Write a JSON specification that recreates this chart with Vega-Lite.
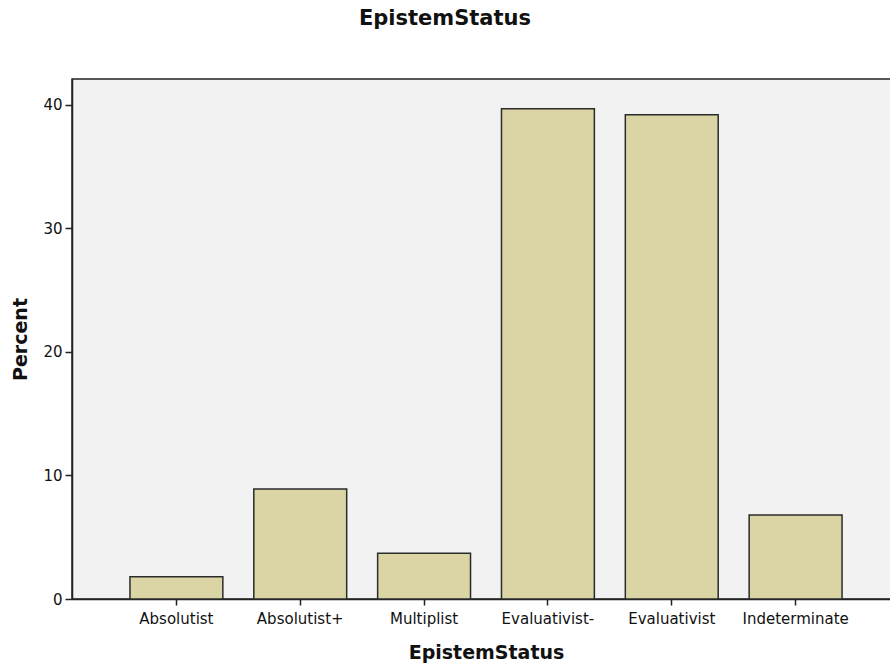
{
  "$schema": "https://vega.github.io/schema/vega-lite/v6.json",
  "autosize": {"type": "none"},
  "padding": {"left": 72, "top": 79, "right": 0, "bottom": 66},
  "width": 828,
  "height": 520,
  "background": "white",
  "title": {"text": "EpistemStatus", "fontSize": 21, "font": "DejaVu Sans", "fontWeight": "bold", "color": "#111", "anchor": "middle", "dx": -41, "offset": 50},
  "data": {"values": [
    {"status": "Absolutist", "percent": 1.8},
    {"status": "Absolutist+", "percent": 8.9},
    {"status": "Multiplist", "percent": 3.7},
    {"status": "Evaluativist-", "percent": 39.7},
    {"status": "Evaluativist", "percent": 39.2},
    {"status": "Indeterminate", "percent": 6.8}
  ]},
  "mark": {"type": "bar", "fill": "#dbd5a5", "stroke": "#2b2b2b", "strokeWidth": 1.5},
  "encoding": {
    "x": {"field": "status", "type": "nominal", "sort": null,
      "scale": {"paddingInner": 0.25, "paddingOuter": 0.468},
      "axis": {"title": "EpistemStatus", "labelAngle": 0, "labelFontSize": 15, "labelFont": "DejaVu Sans", "labelColor": "#111", "tickColor": "#222", "tickSize": 6, "tickWidth": 1.5, "labelPadding": 6, "domainColor": "#222", "domainWidth": 1.5, "titleFontSize": 19, "titleFont": "DejaVu Sans", "titleFontWeight": "bold", "titleColor": "#111", "titlePadding": 17, "grid": false}},
    "y": {"field": "percent", "type": "quantitative",
      "scale": {"domain": [0, 42.1], "nice": false},
      "axis": {"title": "Percent", "values": [0, 10, 20, 30, 40], "labelFontSize": 15, "labelFont": "DejaVu Sans", "labelColor": "#111", "tickColor": "#222", "tickSize": 7, "tickWidth": 1.5, "labelPadding": 3, "domainColor": "#222", "domainWidth": 1.5, "titleFontSize": 19, "titleFont": "DejaVu Sans", "titleFontWeight": "bold", "titleColor": "#111", "titlePadding": 12, "grid": false}}
  },
  "config": {
    "view": {"fill": "#f2f2f2", "stroke": "#222", "strokeWidth": 1.5}
  }
}
